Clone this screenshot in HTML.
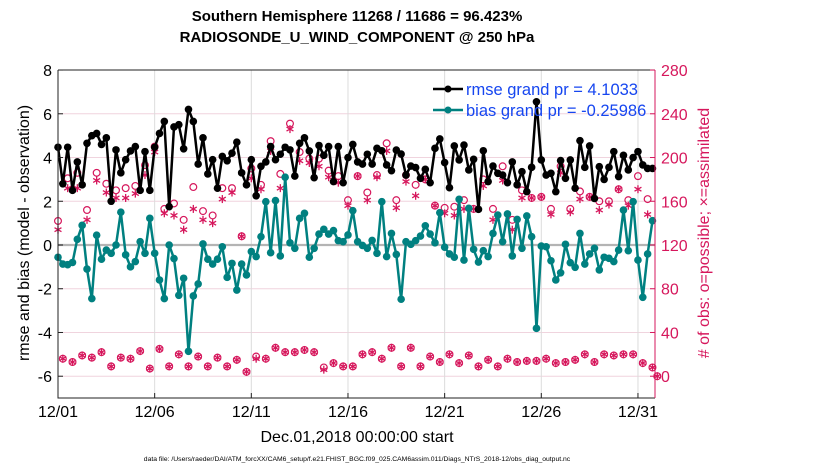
<!DOCTYPE html>
<html><head><meta charset="utf-8"><style>
html,body{margin:0;padding:0;background:#fff;}
svg{display:block;font-family:"Liberation Sans",sans-serif;}
</style></head><body>
<svg id="chart" width="830" height="470" viewBox="0 0 830 470">
<text x="357" y="21" font-size="15" font-weight="bold" text-anchor="middle">Southern Hemisphere 11268 / 11686 = 96.423%</text>
<text x="357" y="42" font-size="15" font-weight="bold" text-anchor="middle">RADIOSONDE_U_WIND_COMPONENT @ 250 hPa</text>
<g id="grid"></g>
<g id="marks"></g>
<g id="axes"></g>
<text transform="translate(29,233) rotate(-90)" font-size="16" text-anchor="middle">rmse and bias (model - observation)</text>
<text transform="translate(709,233) rotate(-90)" font-size="16" fill="#d6175c" text-anchor="middle"># of obs: o=possible; ×=assimilated</text>
<text x="357" y="442" font-size="16" text-anchor="middle">Dec.01,2018 00:00:00 start</text>
<text x="357" y="461" font-size="6.8" text-anchor="middle">data file: /Users/raeder/DAI/ATM_forcXX/CAM6_setup/f.e21.FHIST_BGC.f09_025.CAM6assim.011/Diags_NTrS_2018-12/obs_diag_output.nc</text>
<g>
<line x1="433" y1="89" x2="463" y2="89" stroke="#000" stroke-width="2.5"/>
<circle cx="448" cy="89" r="3.5" fill="#000"/>
<text x="466" y="95" font-size="16.5" fill="#1646f0">rmse grand pr = 4.1033</text>
<line x1="433" y1="110" x2="463" y2="110" stroke="#008080" stroke-width="2.5"/>
<circle cx="448" cy="110" r="3.5" fill="#008080"/>
<text x="466" y="116" font-size="16.5" fill="#1646f0">bias grand pr = -0.25986</text>
</g>
</svg>
<script>
const xTickLabels = ["12/01","12/06","12/11","12/16","12/21","12/26","12/31"];
const xTickDays = [0,5,10,15,20,25,30];
const yTicks = [-6,-4,-2,0,2,4,6,8];
const y2Ticks = [0,40,80,120,160,200,240,280];
const rmse = [4.47,2.8,4.47,2.5,3.8,2.75,4.65,5.0,5.1,4.6,4.9,2.0,4.35,3.3,3.9,4.3,4.5,2.5,4.27,2.5,4.47,5.1,5.65,1.75,5.4,5.5,4.4,6.2,5.65,3.7,4.9,3.25,3.9,2.6,4.05,3.85,4.2,4.7,3.3,2.75,3.9,2.25,3.6,3.8,4.5,3.9,4.15,4.47,4.35,3.15,4.65,4.9,4.3,3.08,4.55,4.1,4.5,2.9,4.5,2.85,4.0,4.6,3.8,3.7,4.15,3.7,4.42,4.31,3.66,3.4,4.34,4.16,3.2,3.61,3.54,3.05,3.46,2.85,4.42,4.85,3.77,2.62,4.53,3.89,4.57,3.43,3.92,1.63,4.31,2.9,3.61,3.28,3.2,2.85,3.8,2.75,3.35,2.44,3.55,6.55,3.89,3.2,3.28,2.44,3.86,3.05,3.89,2.6,4.77,3.55,4.53,2.13,3.58,3.0,3.55,4.27,3.13,4.1,3.43,4.0,4.27,3.66,3.5,3.5];
const bias = [-0.56,-0.87,-0.9,-0.8,0.26,0.9,-1.1,-2.45,0.45,-0.65,-0.23,-0.38,0,1.5,-0.45,-1.0,-0.76,0.15,-0.38,1.22,-0.38,-1.6,-2.45,0,-0.62,-2.3,-1.52,-4.86,-2.33,-1.78,0.05,-0.65,-0.87,-0.65,-0.08,-1.48,-0.84,-2.06,-0.87,-1.37,-0.3,-0.53,0.38,1.98,-0.35,2.03,-0.5,3.1,0.1,-0.15,1.22,1.45,-0.56,-0.15,0.5,0.72,0.5,0.66,0.2,0.15,0.46,1.57,0.15,-0.02,-0.15,0.21,-0.38,1.98,-0.53,0.53,-0.43,-2.48,0.15,0.03,0.2,0.41,0.88,0.5,0.1,1.48,-0.1,-0.41,-0.56,2.09,-0.69,1.68,-0.2,-0.78,-0.26,-0.53,0.53,1.37,0.15,1.42,-0.5,1.17,-0.15,1.33,0.38,-3.81,-0.05,-0.08,-0.72,-1.6,-1.27,0.03,-0.81,-1.02,0.53,-0.87,-0.41,-0.15,-1.14,-0.56,-0.61,-0.76,-0.23,1.6,-0.26,1.98,-0.69,-2.39,-0.41,1.11];
const nPossible = [142,16,181,13,186,19,152,17,186,22,176,9,170,17,172,16,174,23,193,7,210,25,153,9,158,20,143,9,173,18,151,9,147,17,172,9,172,15,128,4,190,18,175,16,215,26,185,22,231,22,205,24,199,22,199,8,188,12,183,9,161,9,183,20,168,22,184,16,213,26,161,9,184,26,175,9,180,18,156,13,154,20,155,12,161,19,153,9,180,15,153,9,192,16,143,13,170,14,163,14,164,16,153,12,192,13,153,15,169,20,164,13,160,20,160,19,171,20,161,20,183,12,162,8,0];
const nAssim = [134,16,172,13,172,19,143,17,179,22,168,9,163,17,163,16,167,23,184,7,205,25,149,9,147,20,134,9,153,18,143,9,140,17,162,9,168,15,128,4,181,16,171,16,206,26,172,22,226,22,197,24,195,22,192,6,182,12,177,9,156,9,183,20,161,22,182,16,206,26,154,9,178,26,165,9,180,18,156,13,149,20,147,12,153,19,153,9,174,15,143,9,179,16,134,13,163,14,163,14,164,16,148,12,186,13,150,15,162,20,164,13,152,20,157,19,171,20,156,20,171,12,148,8,0];

const NS='http://www.w3.org/2000/svg';
const X0=58, X1=655, Y0=70, Y1=398, stepPx=4.833;
const xOfIdx = i => X0 + i*stepPx;
const xOfDay = d => X0 + d*4*stepPx;
const yL = v => 245 - v*21.87;
const yR = c => yL(c/20 - 6);
function mk(tag, attrs, parent){const e=document.createElementNS(NS,tag);for(const k in attrs)e.setAttribute(k,attrs[k]);parent.appendChild(e);return e;}
const grid=document.getElementById('grid'), marks=document.getElementById('marks'), axes=document.getElementById('axes');

yTicks.forEach(v=>{
  const l=mk('line',{x1:X0,x2:X1,y1:yL(v),y2:yL(v),stroke:'#f0d4de','stroke-width':1},grid);
  
  
});
xTickDays.forEach((d,k)=>{
  if(k===0) return;
  const l=mk('line',{x1:xOfDay(d),x2:xOfDay(d),y1:Y0,y2:Y1,stroke:'#dcdcdc','stroke-width':1},grid);
  
  
});
const z=mk('line',{x1:X0,x2:X1,y1:yL(0),y2:yL(0),stroke:'#b4b4b4','stroke-width':2.2},grid);



function star(cx,cy,r,parent){
  const g=mk('g',{stroke:'#d6175c','stroke-width':1.3},parent);
  for(let a=0;a<3;a++){const t=Math.PI/2+a*Math.PI/3;mk('line',{x1:cx-r*Math.cos(t),y1:cy-r*Math.sin(t),x2:cx+r*Math.cos(t),y2:cy+r*Math.sin(t)},g);}
  return g;
}
nPossible.forEach((c,i)=>{
  const o=mk('circle',{cx:xOfIdx(i),cy:yR(c),r:3.4,fill:'none',stroke:'#d6175c','stroke-width':1.2},marks);
  
  
});
nAssim.forEach((c,i)=>{
  const s=star(xOfIdx(i),yR(c),4,marks);
  
  
});

function series(vals,color,name){
  const pts=vals.map((v,i)=>xOfIdx(i).toFixed(1)+','+yL(v).toFixed(1)).join(' ');
  const pl=mk('polyline',{points:pts,fill:'none',stroke:color,'stroke-width':2.5,'stroke-linejoin':'round'},marks);
  
  
  vals.forEach((v,i)=>{
    const c=mk('circle',{cx:xOfIdx(i),cy:yL(v),r:3.8,fill:color},marks);
    
    
  });
}
series(bias,'#008080','bias');
series(rmse,'#000000','rmse');

const f1=mk('path',{d:`M${X0},${Y0}H${X1}M${X0},${Y0}V${Y1}H${X1}`,stroke:'#222','stroke-width':1,fill:'none'},axes);


const f2=mk('line',{x1:X1,x2:X1,y1:Y0,y2:Y1,stroke:'#d6175c','stroke-width':1},axes);


yTicks.forEach(v=>{
  mk('line',{x1:X0,x2:X0+5,y1:yL(v),y2:yL(v),stroke:'#222'},axes);
  const t=mk('text',{x:X0-6,y:yL(v)+6,'font-size':16,'text-anchor':'end'},axes);
  t.textContent=String(v);
  
  
});
y2Ticks.forEach(c=>{
  mk('line',{x1:X1-5,x2:X1,y1:yR(c),y2:yR(c),stroke:'#d6175c'},axes);
  const t=mk('text',{x:X1+6,y:yR(c)+6,'font-size':16,fill:'#d6175c'},axes);
  t.textContent=String(c);
  
  
});
xTickDays.forEach((d,k)=>{
  mk('line',{x1:xOfDay(d),x2:xOfDay(d),y1:Y1,y2:Y1-5,stroke:'#222'},axes);
  const t=mk('text',{x:xOfDay(d),y:417,'font-size':16,'text-anchor':'middle'},axes);
  t.textContent=xTickLabels[k];
  
  
});
</script>
</body></html>
